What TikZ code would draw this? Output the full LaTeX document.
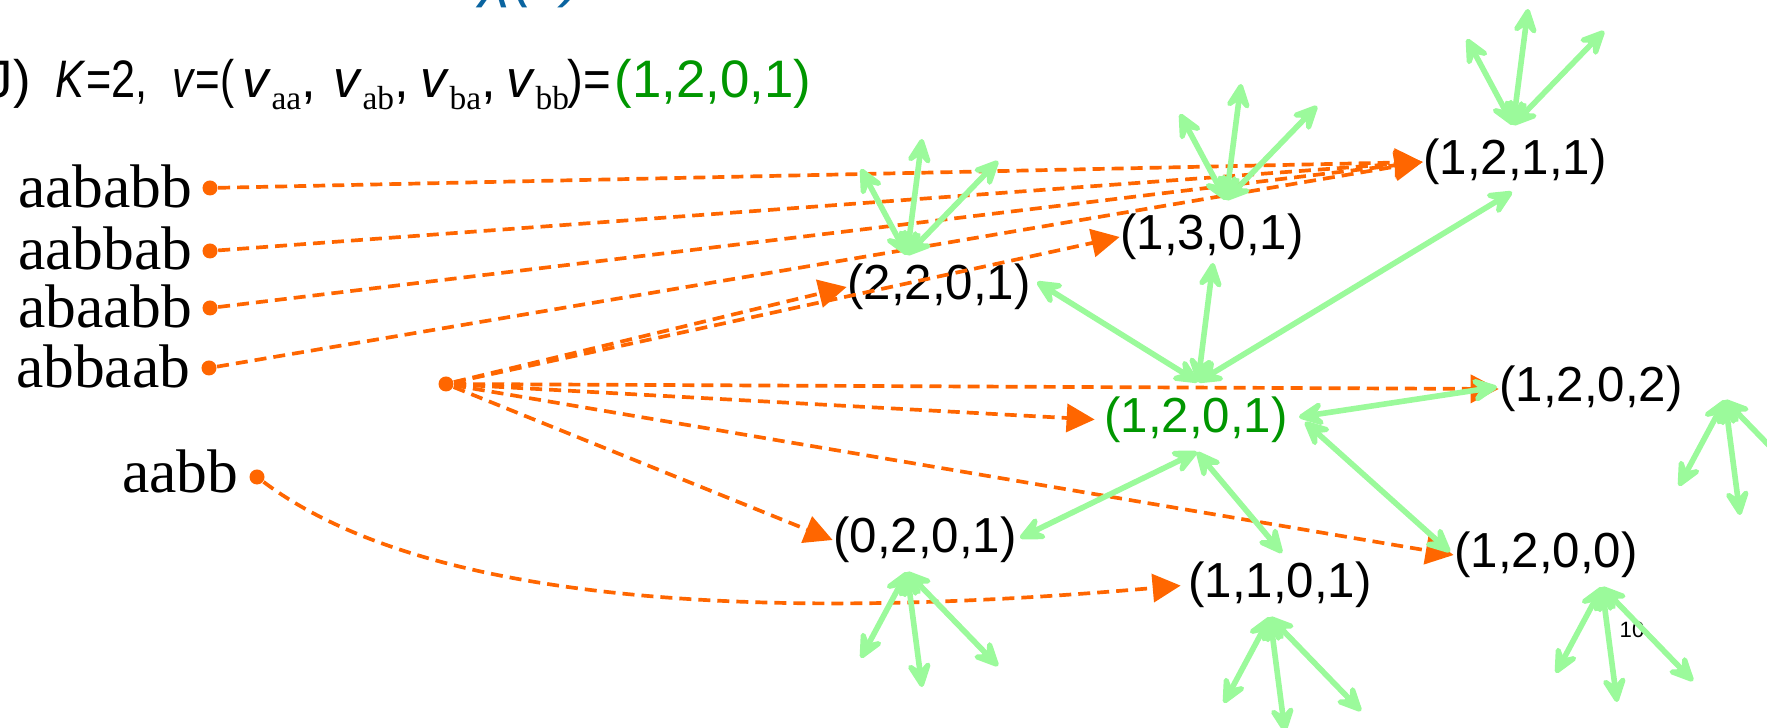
\documentclass[tikz,border=0pt]{standalone}
\usepackage{fontspec}
\setmainfont{Liberation Sans}
\newfontfamily\seriffont{Liberation Serif}
\usetikzlibrary{arrows.meta}
\definecolor{og}{RGB}{255,102,0}
\definecolor{lg}{RGB}{155,250,155}
\definecolor{dg}{RGB}{0,150,0}
\definecolor{bl}{RGB}{10,100,160}
\newcommand{\vsub}[1]{\textit{v}\raisebox{-0.12cm}{\seriffont\fontsize{9.5}{11}\selectfont #1}}
\begin{document}
\begin{tikzpicture}[x=0.01cm,y=-0.01cm,
  lab/.style={inner sep=0pt, font=\fontsize{14}{16}\selectfont},
  str/.style={inner sep=0pt, anchor=base east, font=\seriffont\fontsize{17.5}{20}\selectfont},
  dot/.style={circle, fill=og, inner sep=0pt, minimum size=0.15cm},
  oarr/.style={draw=og, line width=1.05pt, dash pattern=on 0.12cm off 0.07cm, -{Triangle[length=0.28cm,width=0.28cm]}},
  garr/.style={draw=lg, line width=1.6pt,
    {Stealth[length=0.34cm,width=0.32cm,inset=0.14cm,round]}-{Stealth[length=0.34cm,width=0.32cm,inset=0.14cm,round]}},
  ttl/.style={inner sep=0pt, anchor=base west, font=\fontsize{15}{18}\selectfont},
]
\useasboundingbox (0,0) rectangle (1767,728);
\clip (0,0) rectangle (1767,728);

% slide title remnant
\node[anchor=base west, inner sep=0pt, text=bl, font=\itshape\fontsize{17}{20}\selectfont] (blu) at (480,-4) {χ(v)};

% heading
\node[ttl] (t1) at (-14,98) {J)};
\node[ttl] (t2) at (55,98) {\scalebox{0.82}[1]{\textit{K}=2,}};
\node[ttl] (t3) at (172,98) {\scalebox{0.8}[1]{\textit{v}=(}};
\node[ttl] (t4) at (242,98) {\vsub{aa},};
\node[ttl] (t5) at (333,98) {\vsub{ab},};
\node[ttl] (t6) at (420,98) {\vsub{ba},};
\node[ttl] (t7) at (506,98) {\vsub{bb}};
\node[ttl] (t8) at (567,98) {\scalebox{0.9}[1]{)=}};
\node[ttl, text=dg] (t9) at (614,98) {(1,2,0,1)};

% strings
\node[str] (s1) at (193,208) {aababb};
\node[str] (s2) at (193,270) {aabbab};
\node[str] (s3) at (193,328) {abaabb};
\node[str] (s4) at (191,388) {abbaab};
\node[str] (s5) at (239,493) {aabb};
\node[dot] (d1) at (210,188) {};
\node[dot] (d2) at (210,251) {};
\node[dot] (d3) at (210,308) {};
\node[dot] (d4) at (209,368) {};
\node[dot] (d5) at (257,477) {};
\node[dot] (dc) at (446,384) {};

% vectors
\node[lab] (n2201) at (939,287) {(2,2,0,1)};
\node[lab] (n1301) at (1212,237) {(1,3,0,1)};
\node[lab] (n1211) at (1515,162) {(1,2,1,1)};
\node[lab] (n1202) at (1591,389) {(1,2,0,2)};
\node[lab, text=dg] (n1201) at (1196,420) {(1,2,0,1)};
\node[lab] (n0201) at (925,540) {(0,2,0,1)};
\node[lab] (n1101) at (1280,585) {(1,1,0,1)};
\node[lab] (n1200) at (1546,555) {(1,2,0,0)};

\node[inner sep=0pt, font=\fontsize{6.3}{7}\selectfont] (pg) at (1632,630) {10};

% orange dashed connectors
\draw[oarr] (d1) -- (n1211.west);
\draw[oarr] (d2) -- (n1211.west);
\draw[oarr] (d3) -- (n1211.west);
\draw[oarr] (d4) -- (n1211.west);
\draw[oarr] (dc) -- (n2201.west);
\draw[oarr] (dc) -- (n1301.west);
\draw[oarr] (dc) -- (n1202.west);
\draw[oarr, shorten >=0.09cm] (dc) -- (n1201.west);
\draw[oarr] (dc) -- (n1200.west);
\draw[oarr] (dc) -- (n0201.west);
\draw[oarr, shorten >=0.07cm] (d5) .. controls (457,627) and (880,612) .. (n1101.west);

% green neighbour arrows
\coordinate (ht) at (1198,382);
\coordinate (hr1) at (1299,417);
\coordinate (hr2) at (1305,422);
\coordinate (hb) at (1197,452);
\coordinate (g2201) at (1037,282);
\coordinate (g1301) at (1213,263);
\coordinate (g1211) at (1512,192);
\coordinate (g1202) at (1497,387);
\coordinate (g1200) at (1450,552);
\coordinate (g0201) at (1020,538);
\coordinate (g1101) at (1282,553);
\draw[garr] (ht) -- (g2201);
\draw[garr] (ht) -- (g1301);
\draw[garr] (ht) -- (g1211);
\draw[garr] (hr1) -- (g1202);
\draw[garr] (hr2) -- (g1200);
\draw[garr] (hb) -- (g0201);
\draw[garr] (hb) -- (g1101);

% fans
\coordinate (f2201) at (907,255);
\coordinate (f1301) at (1226,200);
\coordinate (f1211) at (1513,125);
\coordinate (f0201) at (907,572);
\coordinate (f1101) at (1270,617);
\coordinate (f1200) at (1602,587);
\coordinate (f1202) at (1725,400);
\foreach \o in {f2201,f1301,f1211}{
  \draw[garr] (\o) -- ++(-46,-86);
  \draw[garr] (\o) -- ++(15,-116);
  \draw[garr] (\o) -- ++(91,-94);
}
\foreach \o in {f0201,f1101,f1200,f1202}{
  \draw[garr] (\o) -- ++(-46,86);
  \draw[garr] (\o) -- ++(15,115);
  \draw[garr] (\o) -- ++(91,94);
}
\end{tikzpicture}
\end{document}
